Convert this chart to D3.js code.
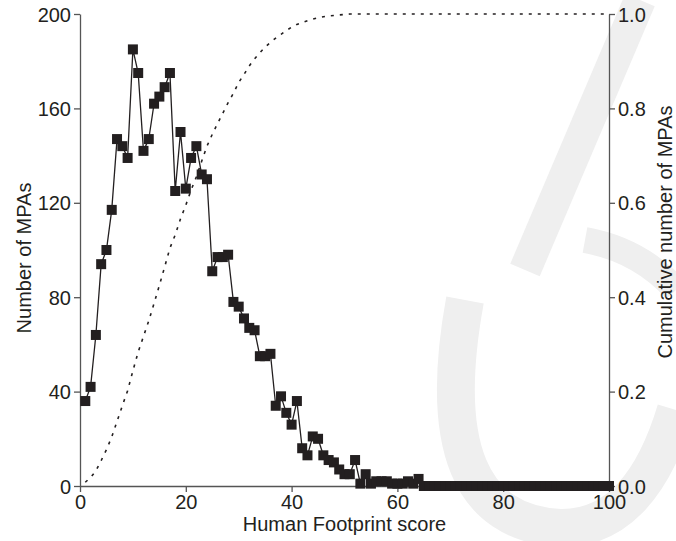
<!DOCTYPE html>
<html lang="en">
<head>
<meta charset="UTF-8">
<title>Human Footprint score of MPAs</title>
<script src="https://cdnjs.cloudflare.com/ajax/libs/d3/7.8.5/d3.min.js"></script>
<style>
    body { margin: 0; background: #fff; }
    svg { display: block; font-family: "Liberation Sans", Arial, sans-serif; }
    .axis path, .axis line { stroke: #555; stroke-width: 1.3; }
    .axis text { font-size: 20px; fill: #231f20; }
    .title { font-size: 20px; fill: #231f20; }
    .mark { stroke: #efefef; fill: none; }
</style>
</head>
<body>
<div class="chart"></div>
<script>
    // human footprint score (x) and number of MPAs per score
    const scores = [1, 2, 3, 4, 5, 6, 7, 8, 9, 10, 11, 12, 13, 14, 15, 16, 17, 18, 19, 20,
        21, 22, 23, 24, 25, 26, 27, 28, 29, 30, 31, 32, 33, 34, 35, 36, 37, 38, 39, 40,
        41, 42, 43, 44, 45, 46, 47, 48, 49, 50, 51, 52, 53, 54, 55, 56, 57, 58, 59, 60,
        61, 62, 63, 64, 65, 66, 67, 68, 69, 70, 71, 72, 73, 74, 75, 76, 77, 78, 79, 80,
        81, 82, 83, 84, 85, 86, 87, 88, 89, 90, 91, 92, 93, 94, 95, 96, 97, 98, 99, 100];
    const counts = [36, 42, 64, 94, 100, 117, 147, 144, 139, 185, 175, 142, 147, 162, 165, 169, 175, 125, 150, 126,
        139, 144, 132, 130, 91, 97, 97, 98, 78, 76, 71, 67, 66, 55, 55, 56, 34, 38, 31, 26,
        36, 16, 13, 21, 20, 13, 11, 10, 7, 5, 5, 11, 1, 5, 1, 2, 2, 2, 1, 1,
        1, 2, 1, 3, 0, 0, 0, 0, 0, 0, 0, 0, 0, 0, 0, 0, 0, 0, 0, 0,
        0, 0, 0, 0, 0, 0, 0, 0, 0, 0, 0, 0, 0, 0, 0, 0, 0, 0, 0, 0];

    // cumulative proportion (dotted line)
    const cumScores = [1, 2, 3, 4, 5, 6, 7, 8, 9, 10, 11, 12, 13, 14, 15, 16, 17, 18, 19, 20,
        21, 22, 23, 24, 25, 26, 27, 28, 29, 30, 31, 32, 33, 34, 35, 36, 37, 38, 39, 40,
        41, 42, 43, 44, 45, 46, 47, 48, 49, 50, 51, 100];
    const cumValues = [0.008, 0.018, 0.032, 0.054, 0.077, 0.104, 0.137, 0.170, 0.202, 0.244,
        0.284, 0.317, 0.350, 0.387, 0.425, 0.464, 0.504, 0.532, 0.566, 0.595,
        0.627, 0.655, 0.688, 0.72, 0.745, 0.768, 0.790, 0.812, 0.832, 0.855,
        0.872, 0.89, 0.905, 0.918, 0.93, 0.94, 0.949, 0.957, 0.965, 0.972,
        0.978, 0.982, 0.986, 0.989, 0.992, 0.994, 0.996, 0.997, 0.998, 0.999, 1.0, 1.0];

    const xTicks = [0, 20, 40, 60, 80, 100];
    const yTicks = [0, 40, 80, 120, 160, 200];
    const y2Ticks = [0, 0.2, 0.4, 0.6, 0.8, 1.0];

    const width = 676, height = 541;
    const plotLeft = 80, plotRight = 609, plotTop = 14, plotBottom = 486;

    const svg = d3.select('.chart').append('svg')
        .attr('width', width)
        .attr('height', height);

    // faint watermark in the background
    svg.append('path').attr('class', 'mark').attr('stroke-width', 32)
        .attr('d', 'M640,0 L525,270');
    svg.append('path').attr('class', 'mark').attr('stroke-width', 38)
        .attr('d', 'M465,300 Q425,520 560,528 Q640,530 676,410');
    svg.append('path').attr('class', 'mark').attr('stroke-width', 26)
        .attr('d', 'M585,240 Q640,250 676,290');

    const x = d3.scaleLinear().domain([0, 100]).range([plotLeft, plotRight]);
    const y = d3.scaleLinear().domain([0, 200]).range([plotBottom, plotTop]);
    const y2 = d3.scaleLinear().domain([0, 1]).range([plotBottom, plotTop]);

    const xAxis = svg.append('g').attr('class', 'axis')
        .attr('transform', 'translate(0,' + plotBottom + ')')
        .call(d3.axisBottom(x).tickValues(xTicks).tickSize(6).tickSizeOuter(0).tickPadding(3));

    svg.append('g').attr('class', 'axis')
        .attr('transform', 'translate(' + plotLeft + ',0)')
        .call(d3.axisLeft(y).tickValues(yTicks).tickSize(6).tickSizeOuter(0).tickPadding(3));

    svg.append('g').attr('class', 'axis')
        .attr('transform', 'translate(' + plotRight + ',0)')
        .call(d3.axisRight(y2).tickValues(y2Ticks).tickSize(6).tickSizeOuter(0).tickPadding(3)
            .tickFormat(d3.format('.1f')));

    svg.selectAll('.axis text').attr('dy', '0.35em');
    xAxis.selectAll('text').attr('dy', '0.72em');

    // cumulative dotted line
    const cum = cumScores.map((s, i) => ({ s: s, v: cumValues[i] }));
    svg.append('path')
        .datum(cum)
        .attr('fill', 'none')
        .attr('stroke', '#231f20')
        .attr('stroke-width', 1.6)
        .attr('stroke-dasharray', '3,6')
        .attr('d', d3.line().x(d => x(d.s)).y(d => y2(d.v)));

    // counts line with square markers
    const pts = scores.map((s, i) => ({ s: s, c: counts[i] }));
    svg.append('path')
        .datum(pts)
        .attr('fill', 'none')
        .attr('stroke', '#231f20')
        .attr('stroke-width', 1.3)
        .attr('d', d3.line().x(d => x(d.s)).y(d => y(d.c)));

    const sq = 10;
    svg.selectAll('.pt')
        .data(pts)
        .enter()
        .append('rect')
        .attr('class', 'pt')
        .attr('x', d => x(d.s) - sq / 2)
        .attr('y', d => y(d.c) - sq / 2)
        .attr('width', sq)
        .attr('height', sq)
        .attr('fill', '#231f20');

    svg.append('text').attr('class', 'title')
        .attr('x', (plotLeft + plotRight) / 2)
        .attr('y', 531)
        .attr('text-anchor', 'middle')
        .text('Human Footprint score');

    svg.append('text').attr('class', 'title')
        .attr('transform', 'translate(31,258) rotate(-90)')
        .attr('text-anchor', 'middle')
        .text('Number of MPAs');

    svg.append('text').attr('class', 'title')
        .attr('transform', 'translate(672,232) rotate(-90)')
        .attr('text-anchor', 'middle')
        .text('Cumulative number of MPAs');
</script>
</body>
</html>
